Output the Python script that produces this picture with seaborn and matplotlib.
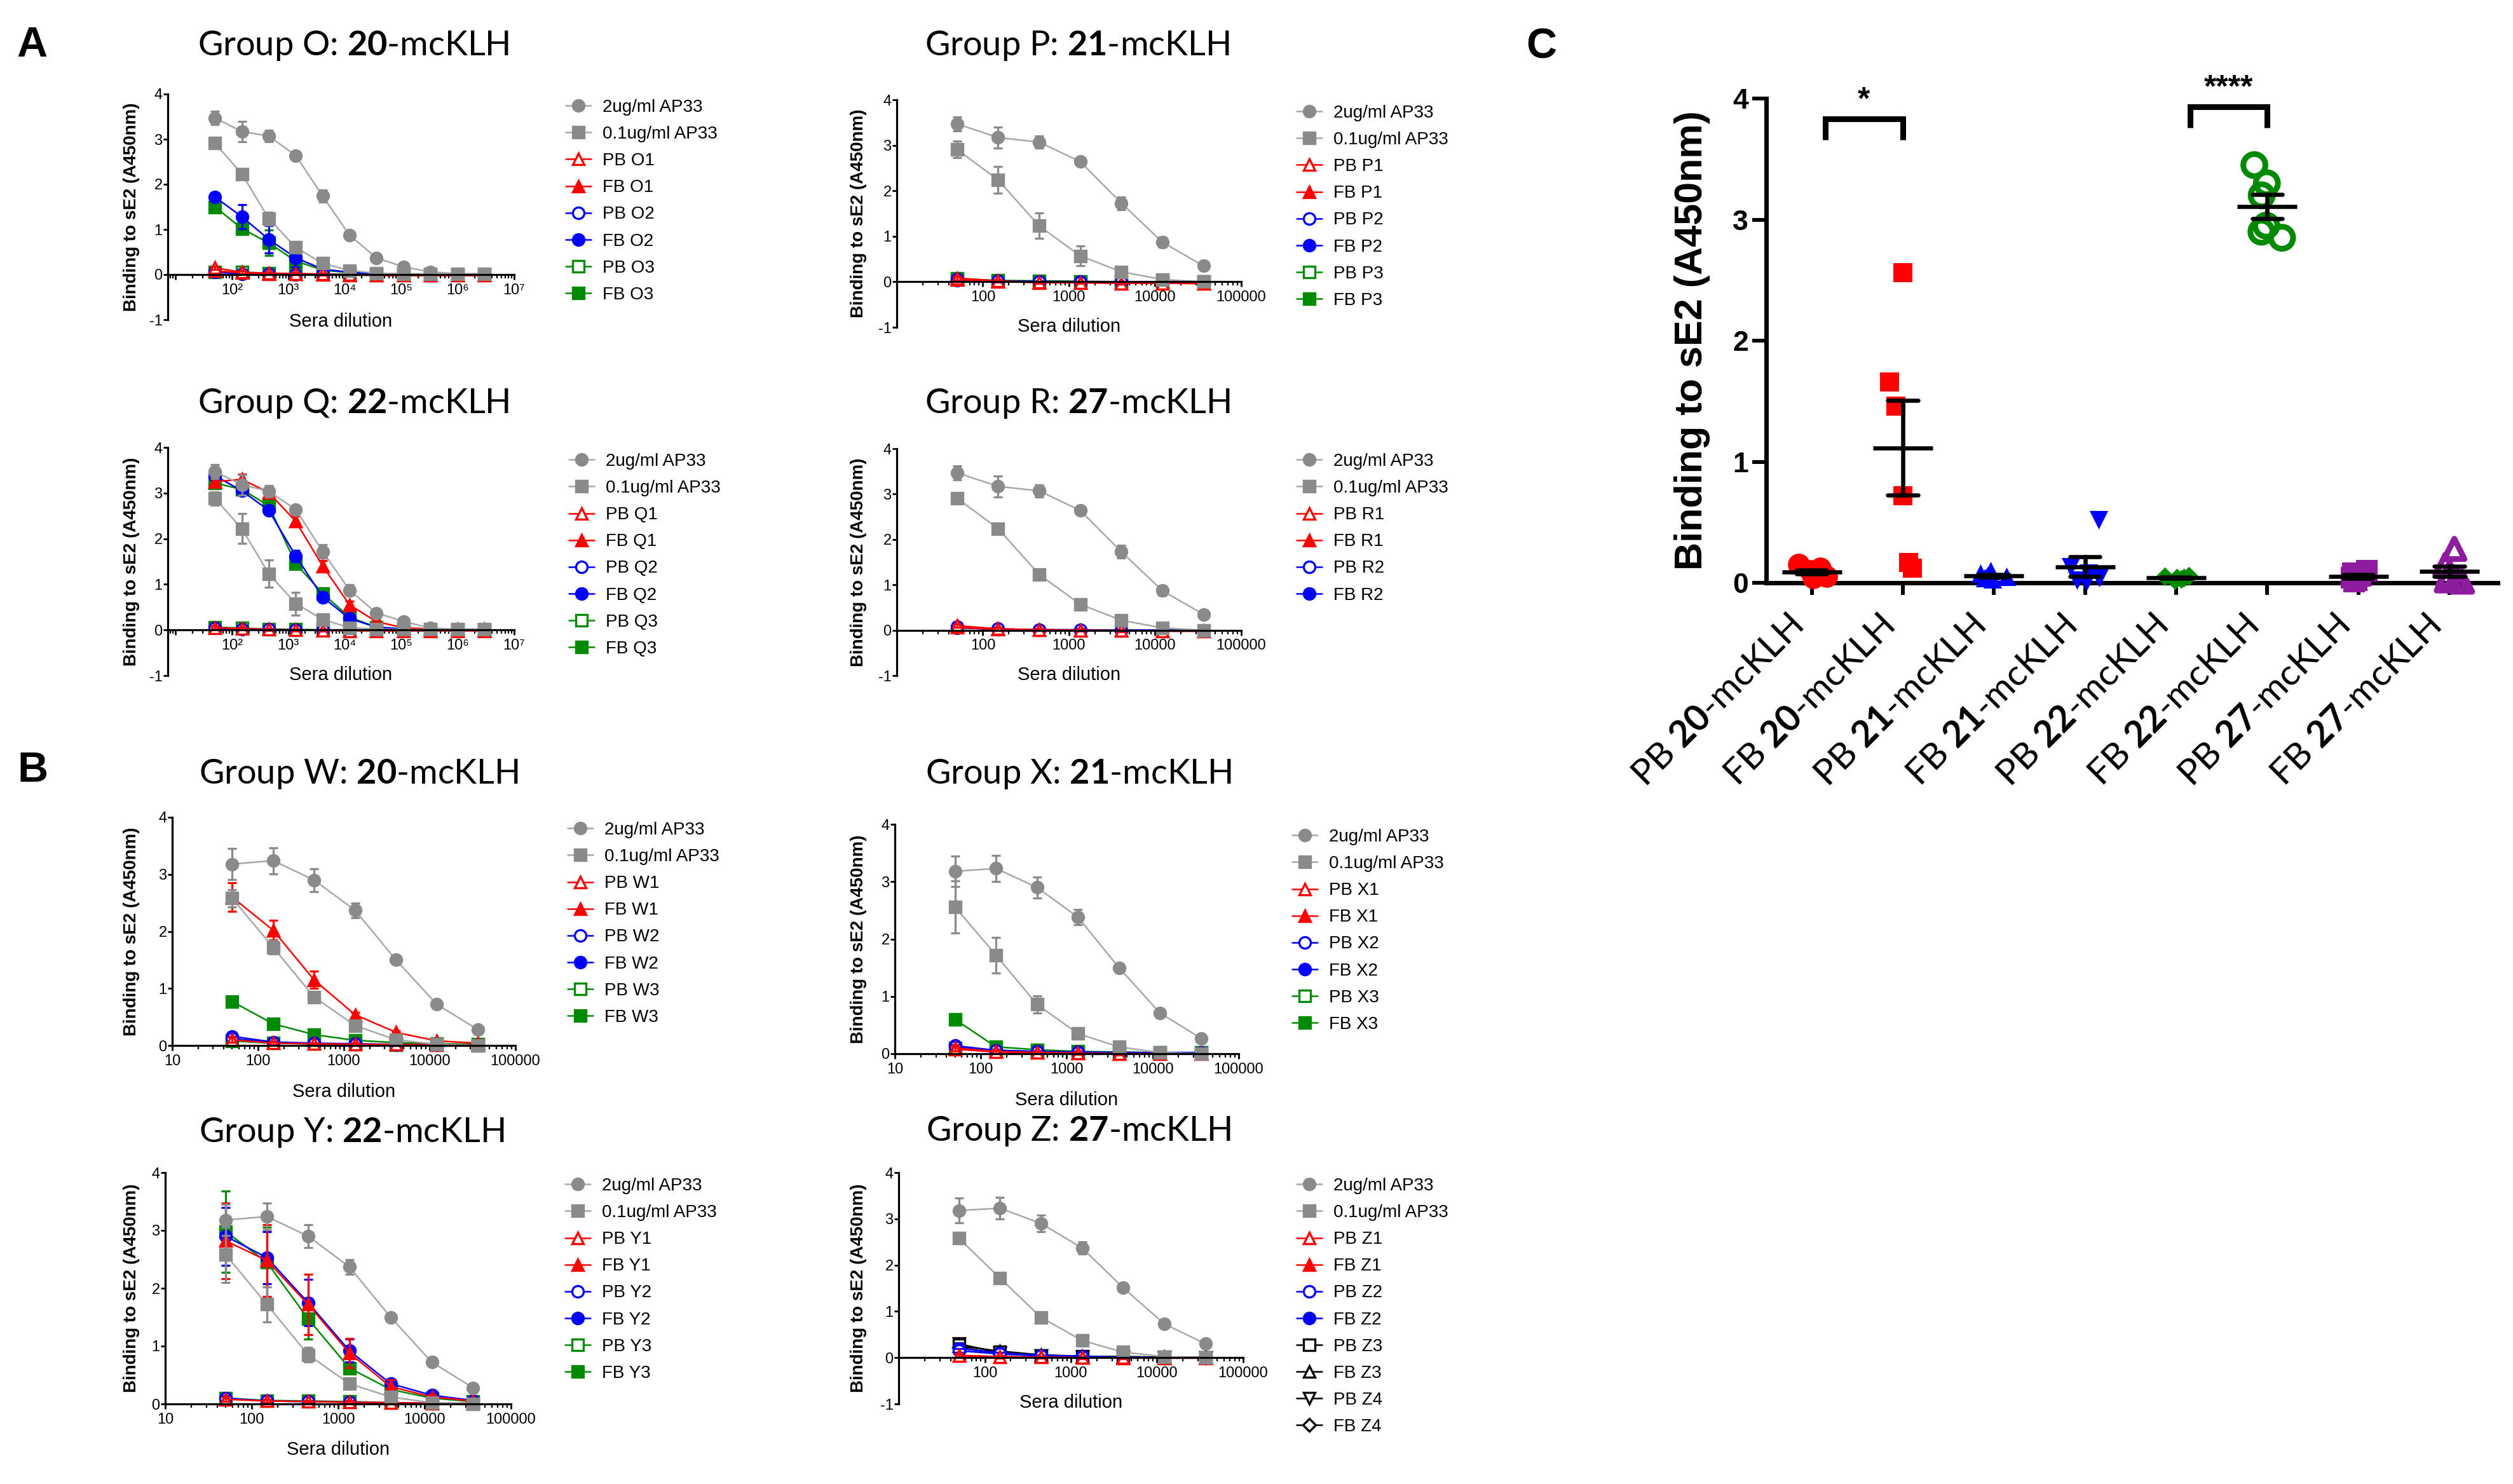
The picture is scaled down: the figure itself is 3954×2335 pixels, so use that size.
import numpy as np
import pandas as pd
import matplotlib
matplotlib.use("Agg")
import matplotlib.pyplot as plt
import seaborn as sns
from matplotlib.ticker import FixedLocator, FixedFormatter, LogLocator, NullFormatter
from matplotlib.transforms import ScaledTranslation

# ---------------------------------------------------------------- data
DIL11 = [50, 150, 450, 1350, 4050, 12150, 36450, 109350, 328050, 984150, 2952450]
DIL7 = [50, 150, 450, 1350, 4050, 12150, 36450]
NEAR0_ERR11 = [0.04, 0.03, 0.02, 0.02, 0.02, 0.02, 0.01, 0.01, 0.01, 0.01, 0.01]
NEAR0_ERR7 = [0.04, 0.03, 0.02, 0.02, 0.02, 0.02, 0.02]

# Group O (20-mcKLH)
O_AP2 = [3.47, 3.17, 3.07, 2.64, 1.74, 0.87, 0.37, 0.17, 0.06, 0.02, 0.02]
O_AP2_ERR = [0.15, 0.22, 0.13, 0.05, 0.13, 0.10, 0.04, 0.04, 0.02, 0.01, 0.01]
O_AP01 = [2.91, 2.23, 1.24, 0.60, 0.25, 0.09, 0.03, 0.02, 0.01, 0.01, 0.01]
O_AP01_ERR = [0.06, 0.10, 0.14, 0.12, 0.05, 0.02, 0.01, 0.01, 0.01, 0.01, 0.01]
O_PB1 = [0.15, 0.05, 0.03, 0.02, 0.01, 0.00, -0.01, -0.02, -0.02, -0.02, -0.02]
O_FB1 = [0.08, 0.04, 0.02, 0.01, 0.00, -0.01, -0.02, -0.02, -0.02, -0.02, -0.02]
O_PB2 = [0.05, 0.02, 0.01, 0.00, 0.00, 0.00, 0.00, 0.00, 0.00, 0.00, 0.00]
O_FB2 = [1.72, 1.28, 0.78, 0.37, 0.12, 0.05, 0.02, 0.01, 0.00, 0.00, 0.00]
O_FB2_ERR = [0.08, 0.27, 0.30, 0.20, 0.04, 0.02, 0.01, 0.01, 0.01, 0.01, 0.01]
O_PB3 = [0.06, 0.05, 0.03, 0.02, 0.01, 0.00, 0.00, 0.00, 0.00, 0.00, 0.00]
O_FB3 = [1.50, 1.02, 0.70, 0.30, 0.10, 0.04, 0.02, 0.01, 0.00, 0.00, 0.00]
O_FB3_ERR = [0.06, 0.08, 0.28, 0.12, 0.04, 0.02, 0.01, 0.01, 0.01, 0.01, 0.01]

# Group P (21-mcKLH)
P_AP2 = [3.47, 3.17, 3.07, 2.64, 1.73, 0.87, 0.35]
P_AP2_ERR = [0.15, 0.23, 0.13, 0.05, 0.14, 0.11, 0.04]
P_AP01 = [2.91, 2.24, 1.23, 0.57, 0.22, 0.05, 0.00]
P_AP01_ERR = [0.18, 0.30, 0.28, 0.22, 0.10, 0.03, 0.02]
P_PB1 = [0.08, 0.02, -0.01, -0.02, -0.03, -0.03, -0.04]
P_FB1 = [0.05, 0.01, -0.02, -0.02, -0.03, -0.03, -0.04]
P_PB2 = [0.04, 0.02, 0.00, -0.01, -0.01, -0.01, -0.01]
P_FB2 = [0.06, 0.02, 0.01, 0.00, -0.01, -0.01, -0.01]
P_PB3 = [0.07, 0.03, 0.02, 0.01, 0.00, 0.00, 0.00]
P_FB3 = [0.05, 0.02, 0.01, 0.00, 0.00, 0.00, 0.00]

# Group Q (22-mcKLH)
Q_AP2 = [3.47, 3.18, 3.04, 2.64, 1.72, 0.87, 0.37, 0.19, 0.04, 0.02, 0.02]
Q_AP2_ERR = [0.15, 0.22, 0.13, 0.05, 0.15, 0.12, 0.04, 0.04, 0.02, 0.01, 0.01]
Q_AP01 = [2.88, 2.22, 1.23, 0.58, 0.23, 0.05, 0.02, 0.01, 0.01, 0.01, 0.01]
Q_AP01_ERR = [0.15, 0.33, 0.30, 0.25, 0.12, 0.03, 0.01, 0.01, 0.01, 0.01, 0.01]
Q_PB1 = [0.05, 0.03, 0.01, 0.00, -0.01, -0.02, -0.02, -0.02, -0.02, -0.02, -0.02]
Q_FB1 = [3.25, 3.30, 3.01, 2.38, 1.40, 0.55, 0.18, 0.05, 0.02, 0.01, 0.01]
Q_FB1_ERR = [0.08, 0.12, 0.08, 0.12, 0.12, 0.08, 0.04, 0.02, 0.01, 0.01, 0.01]
Q_PB2 = [0.04, 0.02, 0.01, 0.00, 0.00, 0.00, 0.00, 0.00, 0.00, 0.00, 0.00]
Q_FB2 = [3.38, 3.05, 2.62, 1.62, 0.72, 0.25, 0.06, 0.02, 0.01, 0.00, 0.00]
Q_FB2_ERR = [0.08, 0.08, 0.06, 0.12, 0.10, 0.04, 0.02, 0.01, 0.01, 0.01, 0.01]
Q_PB3 = [0.06, 0.04, 0.02, 0.01, 0.00, 0.00, 0.00, 0.00, 0.00, 0.00, 0.00]
Q_FB3 = [3.22, 3.08, 2.72, 1.45, 0.80, 0.28, 0.06, 0.02, 0.01, 0.00, 0.00]
Q_FB3_ERR = [0.10, 0.10, 0.06, 0.10, 0.12, 0.05, 0.02, 0.01, 0.01, 0.01, 0.01]

# Group R (27-mcKLH)
R_AP2 = [3.47, 3.17, 3.07, 2.64, 1.73, 0.87, 0.35]
R_AP2_ERR = [0.15, 0.23, 0.13, 0.05, 0.14, 0.11, 0.04]
R_AP01 = [2.91, 2.24, 1.23, 0.57, 0.22, 0.05, 0.00]
R_AP01_ERR = [0.06, 0.09, 0.08, 0.05, 0.05, 0.02, 0.01]
R_PB1 = [0.10, 0.03, 0.01, 0.00, -0.01, -0.02, -0.02]
R_FB1 = [0.06, 0.02, 0.01, 0.00, -0.01, -0.02, -0.02]
R_PB2 = [0.08, 0.03, 0.01, 0.01, 0.00, 0.00, 0.00]
R_FB2 = [0.05, 0.02, 0.01, 0.00, 0.00, 0.00, 0.00]

# Group W (20-mcKLH)
W_AP2 = [3.18, 3.24, 2.90, 2.37, 1.50, 0.72, 0.28]
W_AP2_ERR = [0.27, 0.23, 0.20, 0.13, 0.03, 0.03, 0.03]
W_AP01 = [2.58, 1.72, 0.85, 0.35, 0.10, 0.02, 0.00]
W_AP01_ERR = [0.15, 0.12, 0.07, 0.06, 0.03, 0.02, 0.02]
W_PB1 = [0.10, 0.04, 0.03, 0.02, 0.02, 0.01, 0.01]
W_FB1 = [2.60, 2.02, 1.15, 0.54, 0.23, 0.08, 0.04]
W_FB1_ERR = [0.25, 0.17, 0.15, 0.04, 0.03, 0.02, 0.02]
W_PB2 = [0.12, 0.05, 0.03, 0.02, 0.01, 0.01, 0.00]
W_FB2 = [0.16, 0.06, 0.04, 0.03, 0.02, 0.01, 0.01]
W_PB3 = [0.08, 0.04, 0.03, 0.02, 0.01, 0.01, 0.00]
W_FB3 = [0.77, 0.38, 0.19, 0.09, 0.05, 0.03, 0.02]
W_FB3_ERR = [0.08, 0.03, 0.03, 0.02, 0.01, 0.01, 0.01]

# Group X (21-mcKLH)
X_AP2 = [3.18, 3.23, 2.90, 2.38, 1.50, 0.71, 0.27]
X_AP2_ERR = [0.27, 0.23, 0.18, 0.13, 0.03, 0.03, 0.03]
X_AP01 = [2.56, 1.72, 0.86, 0.35, 0.12, 0.02, 0.00]
X_AP01_ERR = [0.45, 0.31, 0.15, 0.05, 0.03, 0.02, 0.02]
X_PB1 = [0.08, 0.03, 0.02, 0.01, 0.00, 0.00, 0.00]
X_FB1 = [0.10, 0.04, 0.02, 0.01, 0.00, 0.00, 0.00]
X_PB2 = [0.12, 0.05, 0.03, 0.02, 0.02, 0.01, 0.01]
X_FB2 = [0.14, 0.06, 0.04, 0.03, 0.02, 0.02, 0.02]
X_PB3 = [0.10, 0.06, 0.04, 0.03, 0.02, 0.02, 0.02]
X_FB3 = [0.60, 0.12, 0.07, 0.04, 0.03, 0.02, 0.02]
X_FB3_ERR = [0.10, 0.03, 0.02, 0.01, 0.01, 0.01, 0.01]

# Group Y (22-mcKLH)
Y_AP2 = [3.18, 3.24, 2.90, 2.37, 1.50, 0.72, 0.28]
Y_AP2_ERR = [0.27, 0.23, 0.20, 0.13, 0.03, 0.03, 0.03]
Y_AP01 = [2.58, 1.72, 0.85, 0.35, 0.12, 0.02, 0.00]
Y_AP01_ERR = [0.48, 0.30, 0.13, 0.05, 0.03, 0.02, 0.02]
Y_PB1 = [0.08, 0.05, 0.04, 0.03, 0.02, 0.01, 0.01]
Y_FB1 = [2.82, 2.48, 1.72, 0.88, 0.30, 0.12, 0.05]
Y_FB1_ERR = [0.65, 0.62, 0.52, 0.25, 0.12, 0.03, 0.02]
Y_PB2 = [0.10, 0.05, 0.04, 0.03, 0.02, 0.01, 0.01]
Y_FB2 = [2.90, 2.53, 1.75, 0.92, 0.35, 0.15, 0.06]
Y_FB2_ERR = [0.50, 0.45, 0.40, 0.20, 0.08, 0.03, 0.02]
Y_PB3 = [0.10, 0.06, 0.05, 0.04, 0.02, 0.01, 0.01]
Y_FB3 = [2.98, 2.45, 1.47, 0.62, 0.25, 0.10, 0.04]
Y_FB3_ERR = [0.70, 0.60, 0.35, 0.08, 0.05, 0.02, 0.02]

# Group Z (27-mcKLH)
Z_AP2 = [3.18, 3.23, 2.90, 2.37, 1.51, 0.73, 0.30]
Z_AP2_ERR = [0.27, 0.23, 0.18, 0.13, 0.03, 0.03, 0.03]
Z_AP01 = [2.58, 1.72, 0.87, 0.37, 0.12, 0.02, 0.00]
Z_AP01_ERR = [0.12, 0.08, 0.04, 0.04, 0.03, 0.02, 0.02]
Z_PB1 = [0.05, 0.02, 0.01, 0.00, 0.00, 0.00, 0.00]
Z_FB1 = [0.04, 0.02, 0.01, 0.00, -0.01, -0.01, -0.01]
Z_PB2 = [0.15, 0.08, 0.04, 0.02, 0.01, 0.00, 0.00]
Z_FB2 = [0.20, 0.10, 0.05, 0.03, 0.01, 0.00, 0.00]
Z_PB3 = [0.28, 0.12, 0.05, 0.03, 0.02, 0.01, 0.00]
Z_FB3 = [0.25, 0.14, 0.06, 0.03, 0.02, 0.01, 0.00]
Z_PB4 = [0.30, 0.10, 0.04, 0.02, 0.01, 0.00, 0.00]
Z_FB4 = [0.22, 0.08, 0.04, 0.02, 0.01, 0.00, 0.00]

# Panel C (single-dilution scatter)
C_GROUPS = ["PB 20-mcKLH", "FB 20-mcKLH", "PB 21-mcKLH", "FB 21-mcKLH",
            "PB 22-mcKLH", "FB 22-mcKLH", "PB 27-mcKLH", "FB 27-mcKLH"]
C_TICKLABELS = [r"PB $\mathbf{20}$-mcKLH", r"FB $\mathbf{20}$-mcKLH",
                r"PB $\mathbf{21}$-mcKLH", r"FB $\mathbf{21}$-mcKLH",
                r"PB $\mathbf{22}$-mcKLH", r"FB $\mathbf{22}$-mcKLH",
                r"PB $\mathbf{27}$-mcKLH", r"FB $\mathbf{27}$-mcKLH"]
C_PB20 = [0.15, 0.12, 0.10, 0.07, 0.05, 0.04]
C_FB20 = [2.56, 1.66, 1.46, 0.72, 0.17, 0.12]
C_PB21 = [0.10, 0.08, 0.06, 0.05, 0.04, 0.03]
C_FB21 = [0.52, 0.13, 0.08, 0.04, 0.02, 0.01]
C_PB22 = [0.06, 0.05, 0.04, 0.04, 0.03, 0.02]
C_FB22 = [3.45, 3.30, 3.20, 2.95, 2.90, 2.85]
C_PB27 = [0.10, 0.08, 0.06, 0.04, 0.02, 0.01]
C_FB27 = [0.28, 0.15, 0.06, 0.04, 0.02, 0.01]
C_SIG = [("PB 20-mcKLH", "FB 20-mcKLH", "*"), ("PB 22-mcKLH", "FB 22-mcKLH", "****")]

# ---------------------------------------------------------------- style
sns.set_theme(style="ticks")
plt.rcParams.update({
    "font.family": ["Liberation Sans", "DejaVu Sans"],
    "mathtext.fontset": "custom",
    "mathtext.rm": "Lato",
    "mathtext.bf": "Lato:bold",
    "mathtext.it": "Lato:italic",
    "axes.unicode_minus": False,
    "axes.edgecolor": "black",
    "axes.labelcolor": "black",
    "text.color": "black",
    "xtick.color": "black",
    "ytick.color": "black",
})

GRAY = "#8a8a8a"
GRAY_LINE = "#a8a8a8"
RED = "#ff0000"
BLUE = "#0000ff"
GREEN = "#008a00"
PURPLE = "#8e1c9e"
BLACK = "#000000"

STYLES = {
    "AP2": (GRAY, "o", True),
    "AP01": (GRAY, "s", True),
    "PB1": (RED, "^", False), "FB1": (RED, "^", True),
    "PB2": (BLUE, "o", False), "FB2": (BLUE, "o", True),
    "PB3": (GREEN, "s", False), "FB3": (GREEN, "s", True),
    "PB3k": (BLACK, "s", False), "FB3k": (BLACK, "^", False),
    "PB4k": (BLACK, "v", False), "FB4k": (BLACK, "D", False),
}

W, H = 3955, 2335
fig = plt.figure(figsize=(W / 100, H / 100), dpi=100)


def rect(x0, x1, ytop, ybot):
    return [x0 / W, 1 - ybot / H, (x1 - x0) / W, (ybot - ytop) / H]


def small_panel(box, title, title_xy, xvals, series, xkind, neg, legend_xy,
                ylab_right, xlab_top):
    x0, x1, ytop, ybot = box
    ax = fig.add_axes(rect(x0, x1, ytop, ybot))
    ax.set_xscale("log")
    handles = {}
    for label, vals, errs, key in reversed(series):
        color, marker, filled = STYLES[key]
        df = pd.DataFrame({"dilution": xvals, "A450": vals})
        lc = GRAY_LINE if color == GRAY else color
        sns.lineplot(data=df, x="dilution", y="A450", ax=ax, color=lc, linewidth=1.8,
                     marker=marker, markersize=13 if marker != "D" else 10,
                     markerfacecolor=color if filled else "white",
                     markeredgecolor=color, markeredgewidth=2.4,
                     errorbar=None, clip_on=False, legend=False)
        handles[label] = ax.lines[-1]
        ax.errorbar(xvals, vals, yerr=errs, fmt="none", ecolor=color, elinewidth=2.3,
                    capsize=5, capthick=2.3, clip_on=False)
    labels = [s[0] for s in series]
    ax.legend([handles[l] for l in labels], labels, loc="upper left",
              bbox_to_anchor=(legend_xy[0] / W, 1 - (legend_xy[1] - 17) / H),
              bbox_transform=fig.transFigure, frameon=False, fontsize=20,
              handlelength=1.45, handletextpad=0.65, labelspacing=0.58,
              borderpad=0, borderaxespad=0, numpoints=1)

    for s in ["top", "right"]:
        ax.spines[s].set_visible(False)
    for s in ["left", "bottom"]:
        ax.spines[s].set_linewidth(2.3)
    if neg:
        ax.set_ylim(-1, 4)
        ax.spines["bottom"].set_position(("data", 0))
        yt = [-1, 0, 1, 2, 3, 4]
    else:
        ax.set_ylim(0, 4)
        yt = [0, 1, 2, 3, 4]
    ax.yaxis.set_major_locator(FixedLocator(yt))
    ax.yaxis.set_major_formatter(FixedFormatter([str(v) for v in yt]))

    if xkind == "pow":
        ax.set_xlim(7.3, 1e7)
        maj = [1e1, 1e2, 1e3, 1e4, 1e5, 1e6, 1e7]
        lab = ["", "10²", "10³", "10⁴", "10⁵", "10⁶", "10⁷"]
    else:
        ax.set_xlim(10, 1e5)
        maj = [1e1, 1e2, 1e3, 1e4, 1e5]
        lab = ["10" if xkind == "dec10" else "", "100", "1000", "10000", "100000"]
    ax.xaxis.set_major_locator(FixedLocator(maj))
    ax.xaxis.set_major_formatter(FixedFormatter(lab))
    ax.xaxis.set_minor_locator(LogLocator(base=10, subs=np.arange(2, 10)))
    ax.xaxis.set_minor_formatter(NullFormatter())
    ax.tick_params(axis="x", which="major", length=6, width=2, labelsize=17, pad=4)
    ax.tick_params(axis="x", which="minor", length=4, width=1.6)
    ax.tick_params(axis="y", which="major", length=5, width=2, labelsize=17, pad=1)

    ax.set_xlabel("Sera dilution", fontsize=21)
    ax.xaxis.set_label_coords(0.5, xlab_top)
    ax.set_ylabel("Binding to sE2 (A450nm)", fontsize=20, fontweight="bold")
    ax.yaxis.set_label_coords((ylab_right - x0) / (x1 - x0), 0.5)

    fig.text(title_xy[0] / W, 1 - title_xy[1] / H, title, ha="center", va="center",
             fontsize=39, family="Lato")
    return ax


panels = [
    dict(box=(264, 809, 148, 503), title=r"Group O: $\mathbf{20}$-mcKLH", title_xy=(556, 72),
         xvals=DIL11, xkind="pow", neg=True, legend_xy=(890, 173), ylab_right=220, xlab_top=0.031,
         series=[("2ug/ml AP33", O_AP2, O_AP2_ERR, "AP2"), ("0.1ug/ml AP33", O_AP01, O_AP01_ERR, "AP01"),
                 ("PB O1", O_PB1, NEAR0_ERR11, "PB1"), ("FB O1", O_FB1, NEAR0_ERR11, "FB1"),
                 ("PB O2", O_PB2, NEAR0_ERR11, "PB2"), ("FB O2", O_FB2, O_FB2_ERR, "FB2"),
                 ("PB O3", O_PB3, NEAR0_ERR11, "PB3"), ("FB O3", O_FB3, O_FB3_ERR, "FB3")]),
    dict(box=(1411, 1953, 157, 515), title=r"Group P: $\mathbf{21}$-mcKLH", title_xy=(1695, 72),
         xvals=DIL7, xkind="dec", neg=True, legend_xy=(2040, 182), ylab_right=1364, xlab_top=0.042,
         series=[("2ug/ml AP33", P_AP2, P_AP2_ERR, "AP2"), ("0.1ug/ml AP33", P_AP01, P_AP01_ERR, "AP01"),
                 ("PB P1", P_PB1, NEAR0_ERR7, "PB1"), ("FB P1", P_FB1, NEAR0_ERR7, "FB1"),
                 ("PB P2", P_PB2, NEAR0_ERR7, "PB2"), ("FB P2", P_FB2, NEAR0_ERR7, "FB2"),
                 ("PB P3", P_PB3, NEAR0_ERR7, "PB3"), ("FB P3", P_FB3, NEAR0_ERR7, "FB3")]),
    dict(box=(264, 809, 704, 1063), title=r"Group Q: $\mathbf{22}$-mcKLH", title_xy=(556, 635),
         xvals=DIL11, xkind="pow", neg=True, legend_xy=(895, 730), ylab_right=220, xlab_top=0.042,
         series=[("2ug/ml AP33", Q_AP2, Q_AP2_ERR, "AP2"), ("0.1ug/ml AP33", Q_AP01, Q_AP01_ERR, "AP01"),
                 ("PB Q1", Q_PB1, NEAR0_ERR11, "PB1"), ("FB Q1", Q_FB1, Q_FB1_ERR, "FB1"),
                 ("PB Q2", Q_PB2, NEAR0_ERR11, "PB2"), ("FB Q2", Q_FB2, Q_FB2_ERR, "FB2"),
                 ("PB Q3", Q_PB3, NEAR0_ERR11, "PB3"), ("FB Q3", Q_FB3, Q_FB3_ERR, "FB3")]),
    dict(box=(1411, 1953, 706, 1063), title=r"Group R: $\mathbf{27}$-mcKLH", title_xy=(1695, 635),
         xvals=DIL7, xkind="dec", neg=True, legend_xy=(2040, 730), ylab_right=1364, xlab_top=0.042,
         series=[("2ug/ml AP33", R_AP2, R_AP2_ERR, "AP2"), ("0.1ug/ml AP33", R_AP01, R_AP01_ERR, "AP01"),
                 ("PB R1", R_PB1, NEAR0_ERR7, "PB1"), ("FB R1", R_FB1, NEAR0_ERR7, "FB1"),
                 ("PB R2", R_PB2, NEAR0_ERR7, "PB2"), ("FB R2", R_FB2, NEAR0_ERR7, "FB2")]),
    dict(box=(271, 811, 1286, 1645), title=r"Group W: $\mathbf{20}$-mcKLH", title_xy=(565, 1218),
         xvals=DIL7, xkind="dec10", neg=False, legend_xy=(893, 1310), ylab_right=220, xlab_top=-0.164,
         series=[("2ug/ml AP33", W_AP2, W_AP2_ERR, "AP2"), ("0.1ug/ml AP33", W_AP01, W_AP01_ERR, "AP01"),
                 ("PB W1", W_PB1, NEAR0_ERR7, "PB1"), ("FB W1", W_FB1, W_FB1_ERR, "FB1"),
                 ("PB W2", W_PB2, NEAR0_ERR7, "PB2"), ("FB W2", W_FB2, NEAR0_ERR7, "FB2"),
                 ("PB W3", W_PB3, NEAR0_ERR7, "PB3"), ("FB W3", W_FB3, W_FB3_ERR, "FB3")]),
    dict(box=(1408, 1949, 1297, 1658), title=r"Group X: $\mathbf{21}$-mcKLH", title_xy=(1697, 1218),
         xvals=DIL7, xkind="dec10", neg=False, legend_xy=(2033, 1321), ylab_right=1364, xlab_top=-0.163,
         series=[("2ug/ml AP33", X_AP2, X_AP2_ERR, "AP2"), ("0.1ug/ml AP33", X_AP01, X_AP01_ERR, "AP01"),
                 ("PB X1", X_PB1, NEAR0_ERR7, "PB1"), ("FB X1", X_FB1, NEAR0_ERR7, "FB1"),
                 ("PB X2", X_PB2, NEAR0_ERR7, "PB2"), ("FB X2", X_FB2, NEAR0_ERR7, "FB2"),
                 ("PB X3", X_PB3, NEAR0_ERR7, "PB3"), ("FB X3", X_FB3, X_FB3_ERR, "FB3")]),
    dict(box=(260, 804, 1845, 2209), title=r"Group Y: $\mathbf{22}$-mcKLH", title_xy=(553, 1782),
         xvals=DIL7, xkind="dec10", neg=False, legend_xy=(889, 1870), ylab_right=220, xlab_top=-0.159,
         series=[("2ug/ml AP33", Y_AP2, Y_AP2_ERR, "AP2"), ("0.1ug/ml AP33", Y_AP01, Y_AP01_ERR, "AP01"),
                 ("PB Y1", Y_PB1, NEAR0_ERR7, "PB1"), ("FB Y1", Y_FB1, Y_FB1_ERR, "FB1"),
                 ("PB Y2", Y_PB2, NEAR0_ERR7, "PB2"), ("FB Y2", Y_FB2, Y_FB2_ERR, "FB2"),
                 ("PB Y3", Y_PB3, NEAR0_ERR7, "PB3"), ("FB Y3", Y_FB3, Y_FB3_ERR, "FB3")]),
    dict(box=(1414, 1956, 1845, 2209), title=r"Group Z: $\mathbf{27}$-mcKLH", title_xy=(1697, 1780),
         xvals=DIL7, xkind="dec", neg=True, legend_xy=(2040, 1870), ylab_right=1364, xlab_top=0.044,
         series=[("2ug/ml AP33", Z_AP2, Z_AP2_ERR, "AP2"), ("0.1ug/ml AP33", Z_AP01, Z_AP01_ERR, "AP01"),
                 ("PB Z1", Z_PB1, NEAR0_ERR7, "PB1"), ("FB Z1", Z_FB1, NEAR0_ERR7, "FB1"),
                 ("PB Z2", Z_PB2, NEAR0_ERR7, "PB2"), ("FB Z2", Z_FB2, NEAR0_ERR7, "FB2"),
                 ("PB Z3", Z_PB3, NEAR0_ERR7, "PB3k"), ("FB Z3", Z_FB3, NEAR0_ERR7, "FB3k"),
                 ("PB Z4", Z_PB4, NEAR0_ERR7, "PB4k"), ("FB Z4", Z_FB4, NEAR0_ERR7, "FB4k")]),
]
for p in panels:
    small_panel(**p)

# ---------------------------------------------------------------- panel C
axc = fig.add_axes(rect(2779, 3930, 155, 917))
c_values = [C_PB20, C_FB20, C_PB21, C_FB21, C_PB22, C_FB22, C_PB27, C_FB27]
c_style = [(RED, "o", True, 25, 0.17), (RED, "s", True, 21, 0.17), (BLUE, "^", True, 21, 0.17),
           (BLUE, "v", True, 21, 0.17), (GREEN, "D", True, 15, 0.17), (GREEN, "o", False, 25, 0.24),
           (PURPLE, "s", True, 25, 0.17), (PURPLE, "^", False, 23, 0.17)]
cdf = pd.concat([pd.DataFrame({"group": g, "A450": v}) for g, v in zip(C_GROUPS, c_values)],
                ignore_index=True)
np.random.seed(7)
for g, (col, mk, filled, sz, jit) in zip(C_GROUPS, c_style):
    sub = cdf[cdf["group"] == g]
    n_before = len(axc.collections)
    sns.stripplot(data=sub, x="group", y="A450", order=C_GROUPS, jitter=jit, marker=mk,
                  color=col, size=sz, linewidth=0, ax=axc, clip_on=False, zorder=3)
    for coll in axc.collections[n_before:]:
        if len(coll.get_offsets()) == 0:
            coll.set_visible(False)
        elif not filled:
            coll.set_facecolor("none")
            coll.set_edgecolor(col)
            coll.set_linewidth(6.5)

sns.pointplot(data=cdf, x="group", y="A450", order=C_GROUPS, errorbar="se", capsize=0.33,
              color="black", marker="_", markersize=68, markeredgewidth=4.7,
              linestyle="none", err_kws={"linewidth": 4.7}, ax=axc, zorder=5)

for a, b, txt in C_SIG:
    ia, ib = C_GROUPS.index(a), C_GROUPS.index(b)
    yb = 3.83 if txt == "*" else 3.93
    axc.plot([ia + 0.15, ia + 0.15, ib, ib], [yb - 0.17, yb, yb, yb - 0.17], color="black",
             lw=6.5, clip_on=False, solid_capstyle="butt", solid_joinstyle="miter")
    axc.text((ia + 0.15 + ib) / 2, yb + 0.03, txt, ha="center", va="bottom", fontsize=36,
             fontweight="bold")

axc.set_xlim(-0.5, 7.53)
axc.set_ylim(0, 4)
for s in ["top", "right"]:
    axc.spines[s].set_visible(False)
for s in ["left", "bottom"]:
    axc.spines[s].set_linewidth(5)
axc.set_yticks([0, 1, 2, 3, 4])
axc.set_yticklabels(["0", "1", "2", "3", "4"], fontsize=32, fontweight="bold")
axc.set_xticks(range(len(C_GROUPS)))
axc.set_xticklabels(C_TICKLABELS, rotation=45, ha="right", va="center",
                    rotation_mode="anchor", fontsize=41, family="Lato")
axc.tick_params(axis="y", length=16, width=4.3, pad=4)
axc.tick_params(axis="x", length=14, width=4.3, pad=30)
for lab in axc.get_xticklabels():
    lab.set_transform(lab.get_transform() + ScaledTranslation(-22 / 100, 0, fig.dpi_scale_trans))
axc.set_xlabel("")
axc.set_ylabel("Binding to sE2 (A450nm)", fontsize=44, fontweight="bold")
axc.yaxis.set_label_coords((2691 - 2779) / (3930 - 2779), 0.5)

# panel letters
fig.text(50 / W, 1 - 72 / H, "A", fontsize=48, fontweight="bold", ha="center", va="center")
fig.text(52 / W, 1 - 1213 / H, "B", fontsize=48, fontweight="bold", ha="center", va="center")
fig.text(2425 / W, 1 - 75 / H, "C", fontsize=48, fontweight="bold", ha="center", va="center")

fig.savefig("out.png", dpi=100, facecolor="white")
